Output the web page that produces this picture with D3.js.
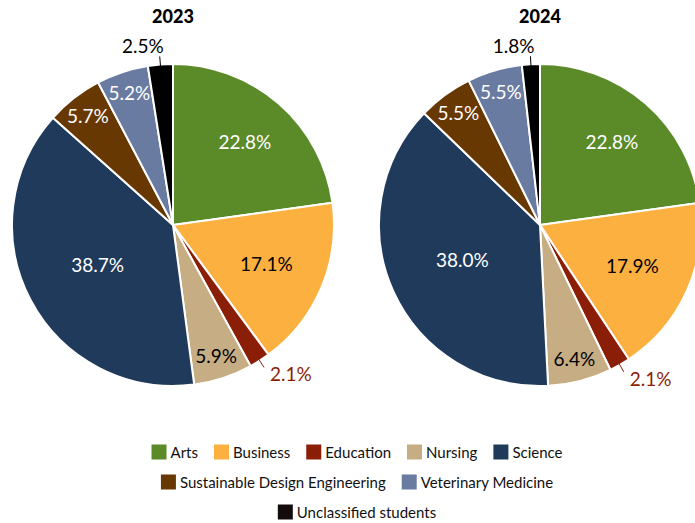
<!DOCTYPE html>
<html>
<head>
<meta charset="utf-8">
<script src="https://cdn.jsdelivr.net/npm/d3@7"></script>
<style>
  html, body { margin: 0; padding: 0; background: #fff; }
  svg { display: block; font-family: Lato, "Noto Sans", sans-serif; }
</style>
</head>
<body>
<div id="chart"></div>
<script>
// faculties, in slice order (clockwise from 12 o'clock)
const categories = ["Arts", "Business", "Education", "Nursing", "Science",
  "Sustainable Design Engineering", "Veterinary Medicine", "Unclassified students"];
const years = ["2023", "2024"];
const values2023 = [22.8, 17.1, 2.1, 5.9, 38.7, 5.7, 5.2, 2.5];
const values2024 = [22.8, 17.9, 2.1, 6.4, 38.0, 5.5, 5.5, 1.8];
const colors = ["#5b8a29", "#fbb040", "#8b1e06", "#c6ad84", "#203a5c", "#683803", "#6a7ba2", "#000000"];
const legendColors = ["#5b8a29", "#fbb040", "#8b1e06", "#c6ad84", "#203a5c", "#683803", "#6a7ba2", "#140c0c"];

const width = 695, height = 523;
const radius = 161;

const svg = d3.select("#chart").append("svg")
  .attr("width", width)
  .attr("height", height);

const color = d3.scaleOrdinal().domain(categories).range(colors);
const centerX = d3.scalePoint().domain(years).range([173, 540]);

const pie = d3.pie().sort(null).value(d => d.value);
const arc = d3.arc().innerRadius(0).outerRadius(radius);

// where excel's "best fit" tends to drop the label
function labelFactor(v) {
  if (v >= 30) return 0.53;
  if (v >= 20) return 0.68;
  if (v >= 10) return 0.63;
  return 0.86;
}

[values2023, values2024].forEach((vals, k) => {
  let data = categories.map((c, i) => ({name: c, value: vals[i]}));
  let arcs = pie(data);

  let g = svg.append("g")
    .attr("transform", "translate(" + centerX(years[k]) + "," + 225 + ")");

  svg.append("text")
    .attr("x", centerX(years[k]))
    .attr("y", 23)
    .attr("text-anchor", "middle")
    .style("font-weight", 900)
    .style("font-size", "18px")
    .text(years[k]);

  g.selectAll("path")
    .data(arcs)
    .enter()
      .append("path")
      .attr("d", arc)
      .attr("fill", d => color(d.data.name))
      .attr("stroke", "white")
      .attr("stroke-width", 2)
      .attr("stroke-linejoin", "round");

  arcs.forEach(d => {
    let a = (d.startAngle + d.endAngle) / 2;
    let sx = Math.sin(a), cy = -Math.cos(a);
    let label = d.data.value.toFixed(1) + "%";
    let c = color(d.data.name);

    if (d.data.value < 3) {
      // small slice: label outside with a leader
      let r0 = radius * 0.93, r1 = radius * 1.05;
      let ex = sx * r1, ey = cy * r1;
      g.append("line")
        .attr("x1", sx * r0).attr("y1", cy * r0)
        .attr("x2", ex).attr("y2", ey)
        .attr("stroke", c)
        .attr("stroke-width", 1);
      let right = sx > 0.15;
      let top = cy < 0;
      g.append("text")
        .attr("x", right ? ex + 6 : ex + 4)
        .attr("y", top ? ey - 3 : ey + 14)
        .attr("text-anchor", right ? "start" : "end")
        .attr("fill", c)
        .style("font-size", "19px")
        .text(label);
    } else {
      let f = labelFactor(d.data.value);
      g.append("text")
        .attr("x", sx * radius * f)
        .attr("y", cy * radius * f)
        .attr("dy", "0.35em")
        .attr("text-anchor", "middle")
        .attr("fill", d3.lab(c).l < 60 ? "white" : "black")
        .style("font-size", "19px")
        .text(label);
    }
  });
});

// legend, wrapped into centred rows
const box = 15, boxGap = 4, itemGap = 16, maxRow = 450;
const rowY = [453, 483, 513];
const legend = svg.append("g").style("font-size", "15px");

let items = categories.map((c, i) => {
  let t = legend.append("text").text(c);
  let w = t.node().getComputedTextLength();
  t.remove();
  return {name: c, color: legendColors[i], w: box + boxGap + w};
});

let rows = [[]], rowW = [0];
items.forEach(it => {
  let r = rows.length - 1;
  let add = rows[r].length ? itemGap + it.w : it.w;
  if (rowW[r] + add > maxRow && rows[r].length) {
    rows.push([it]);
    rowW.push(it.w);
  } else {
    rows[r].push(it);
    rowW[r] += add;
  }
});

rows.forEach((row, r) => {
  let x = 357 - rowW[r] / 2;
  row.forEach(it => {
    legend.append("rect")
      .attr("x", x).attr("y", rowY[r] - box / 2 - 1)
      .attr("width", box).attr("height", box)
      .attr("fill", it.color);
    legend.append("text")
      .attr("x", x + box + boxGap)
      .attr("y", rowY[r])
      .attr("dy", "0.35em")
      .attr("fill", "#111")
      .text(it.name);
    x += it.w + itemGap;
  });
});
</script>
</body>
</html>
